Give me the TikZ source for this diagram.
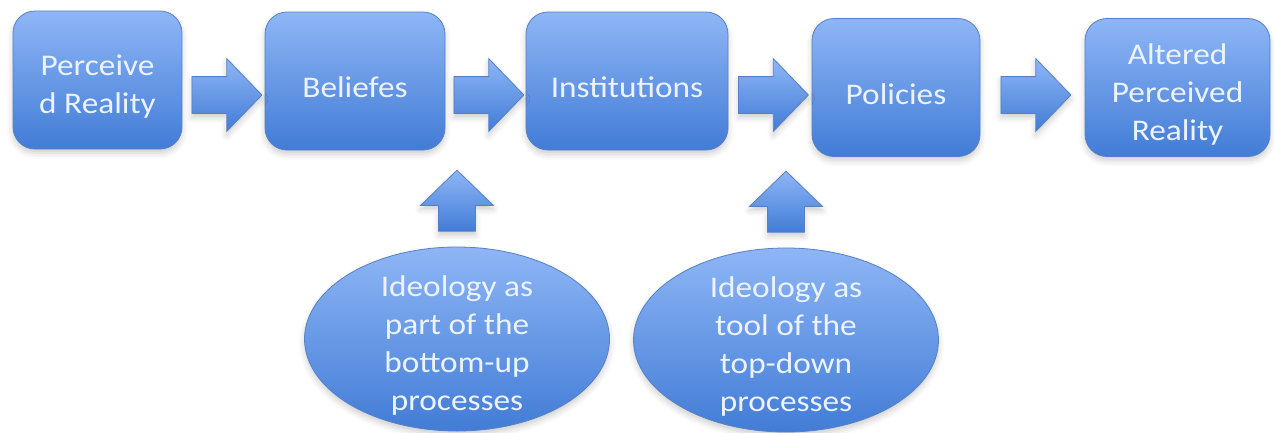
\documentclass[tikz,border=0pt]{standalone}
\usepackage{fontspec}
\setmainfont{Carlito}[FakeStretch=1.11]
\usetikzlibrary{positioning,calc,shapes.geometric,shapes.arrows,shadows.blur}

\definecolor{boxtop}{RGB}{142,182,246}
\definecolor{boxbottom}{RGB}{66,124,214}
\definecolor{boxline}{RGB}{88,128,196}
\definecolor{boxtext}{RGB}{236,243,255}

\begin{document}
\begin{tikzpicture}[x=1pt, y=-1pt,
every node/.style={text=boxtext, font=\fontsize{30}{38}\selectfont, align=center},
fill blue/.style={top color=boxtop, bottom color=boxbottom, draw=boxline, line width=0.8pt,
  blur shadow={shadow xshift=0pt, shadow yshift=-4pt, shadow opacity=20, shadow blur radius=6pt}},
box/.style={fill blue, rounded corners=22pt, minimum width=#1, minimum height=138pt, inner sep=0pt},
bubble/.style={fill blue, ellipse, minimum width=305pt, minimum height=184pt, inner sep=0pt},
fat arrow/.style={fill blue, single arrow, anchor=tail, minimum height=#1, minimum width=0pt,
  inner xsep=0pt, inner ysep=18pt, single arrow head extend=18pt, single arrow tip angle=92},
up arrow/.style={fat arrow=#1, shape border rotate=90, inner xsep=18pt, inner ysep=0pt}]
\useasboundingbox (0,0) rectangle (1274,432);

% the chain
\node[box=169pt] (real) at (97.5,80) {};
\node[box=180pt] (belief) at (355,81) {};
\node[box=202pt] (inst) at (627,81) {};
\node[box=168pt] (pol) at (896,87.5) {};
\node[box=185pt] (alt) at (1177.5,87.5) {};

% ideology bubbles
\node[bubble] (bottomup) at (457,339) {};
\node[bubble] (topdown) at (786,340) {};

% texts sit a little below the middle
\foreach \n/\t in {real/{Perceive\\d Reality}, belief/Beliefes, inst/Institutions,
    pol/Policies, alt/{Altered\\Perceived\\Reality},
    bottomup/{Ideology as\\part of the\\bottom-up\\processes},
    topdown/{Ideology as\\tool of the\\top-down\\processes}}
  \node (\n-text) at ([yshift=-6.5pt]\n.center) {\t};

% block arrows
\coordinate (row) at (0,95);
\foreach \a/\b in {real/belief, belief/inst, inst/pol, pol/alt}
  \node[fat arrow=70pt] (\a-\b) at ($(\a.east |- row)!.5!(\b.west |- row)+(-32,0)$) {};
\node[up arrow=61pt] (bottomup-up) at ($(bottomup.north)+(0,-15)$) {};
\node[up arrow=61pt] (topdown-up) at ($(topdown.north)+(0,-15)$) {};
\end{tikzpicture}
\end{document}
